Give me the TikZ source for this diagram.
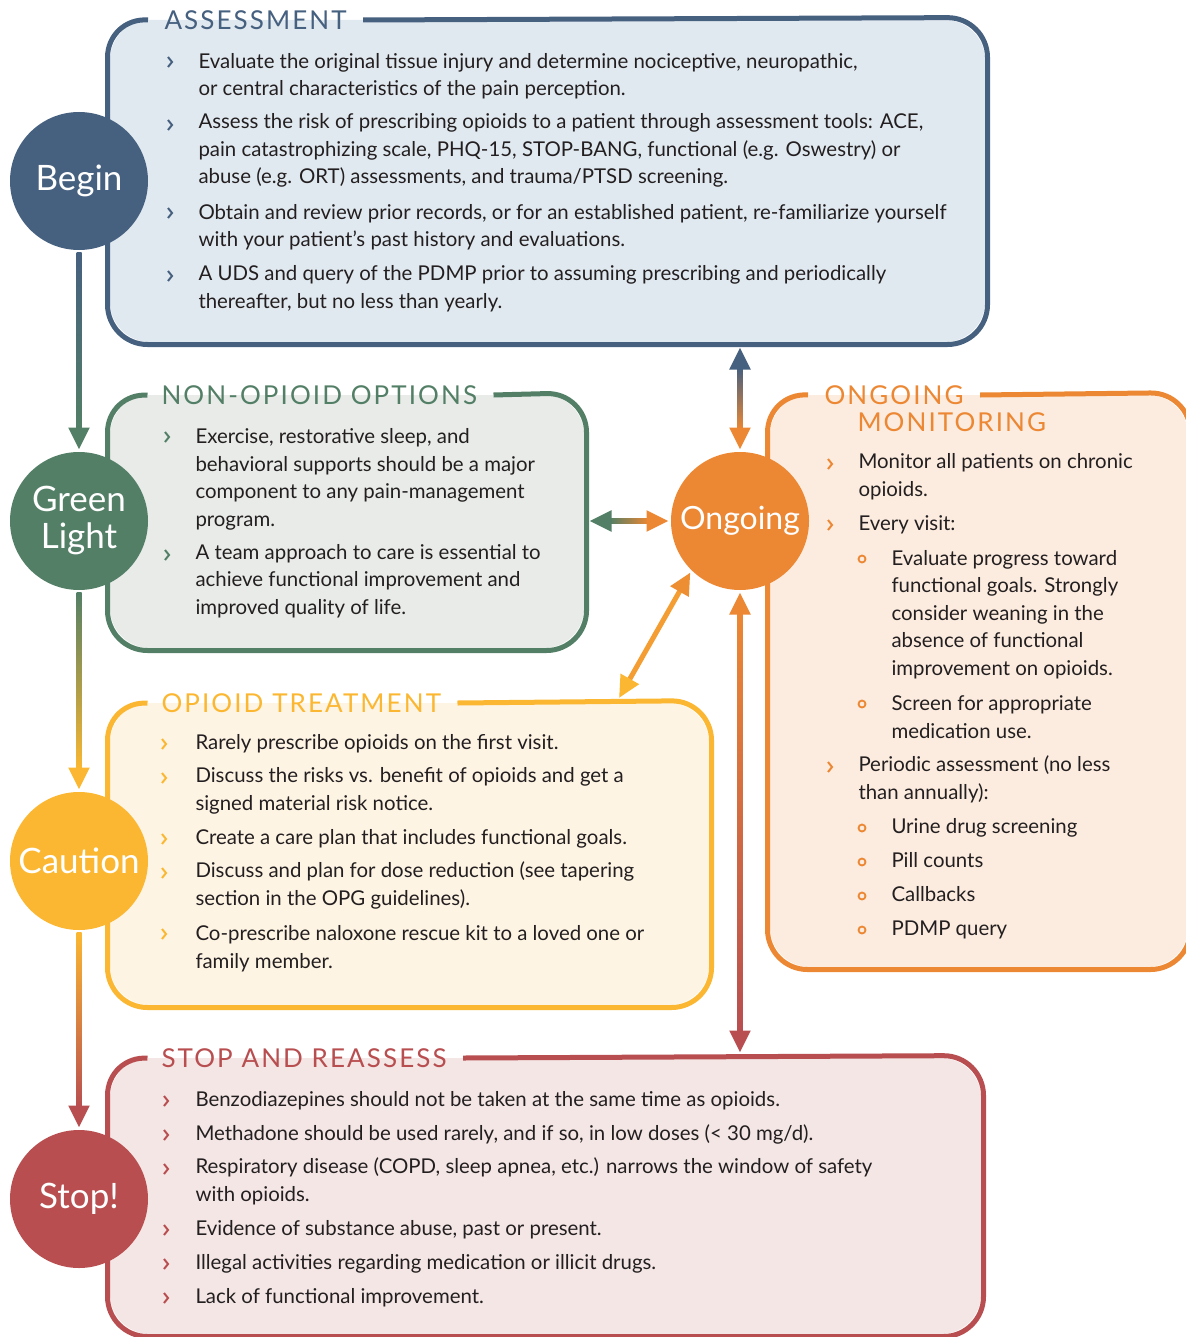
\documentclass[tikz,border=0pt]{standalone}
\usepackage{fontspec}
\setmainfont{Lato}
\usetikzlibrary{arrows.meta,calc}
\definecolor{cblue}{HTML}{46607F}
\definecolor{cbluefill}{HTML}{E1E9F0}
\definecolor{cgreen}{HTML}{537F66}
\definecolor{cgreenfill}{HTML}{E8EBE8}
\definecolor{cyellow}{HTML}{FBB731}
\definecolor{cyellowfill}{HTML}{FEF4E4}
\definecolor{cred}{HTML}{B84E50}
\definecolor{credfill}{HTML}{F3E6E4}
\definecolor{corange}{HTML}{EC8733}
\definecolor{corangefill}{HTML}{FCECDF}
\definecolor{ink}{HTML}{231F20}

\begin{document}
\begin{tikzpicture}[x=0.5pt,y=-0.5pt,line width=2.5pt,
  stage/.style={circle,fill=#1,minimum size=69pt,inner sep=0pt,text=white,align=center,font=\fontsize{17.5}{18.5}\selectfont},
  panel/.style={fill=#1,rounded corners=20pt,inner sep=0pt},
  ttl/.style={anchor=west,text=#1,inner xsep=7pt,inner ysep=0pt,font=\fontsize{13}{15}\selectfont\addfontfeature{LetterSpace=8}},
  itm/.style={anchor=base west,align=left,inner sep=0pt,xshift=-1pt,text=ink,font=\fontsize{10.2}{13.75}\selectfont},
  chev/.style={draw=#1,line width=1pt},
  subdot/.style={draw=#1,line width=0.9pt},
  tip/.style={-{Triangle[length=11pt,width=10pt]},#1}]
  \useasboundingbox (0,0) rectangle (1185,1337);
  % panels
  \node[panel=cbluefill,minimum width=437.5pt,minimum height=161pt] (assess) at (547.5,181) {};
  \node[panel=cgreenfill,minimum width=237pt,minimum height=126.5pt] (nonop) at (347,521.5) {};
  \node[panel=cyellowfill,minimum width=299.5pt,minimum height=151pt] (opbox) at (409.5,854) {};
  \node[panel=credfill,minimum width=435.5pt,minimum height=138pt] (stopbox) at (545.5,1196) {};
  \node[panel=corangefill,minimum width=209pt,minimum height=286pt] (ongbox) at (979,681) {};
  % titles on the frame
  \node[ttl=cblue] (tA) at (148,20) {ASSESSMENT};
  \node[ttl=cgreen] (tN) at (145,395) {NON-OPIOID OPTIONS};
  \node[ttl=cyellow] (tOp) at (145,703) {OPIOID TREATMENT};
  \node[ttl=cred] (tS) at (145,1058) {STOP AND REASSESS};
  \node[ttl=corange] (tO1) at (808,395) {ONGOING};
  \node[ttl=corange,inner xsep=0pt] (tO2) at (855,422) {MONITORING};
  \begin{scope}[rounded corners=20pt]
    \draw[cblue] (tA.east) -- (assess.north east) -- (assess.south east) -- (assess.south west) -- (assess.north west) -- (tA.west);
    \draw[cgreen] (tN.east) -- (nonop.north east) -- (nonop.south east) -- (nonop.south west) -- (nonop.north west) -- (tN.west);
    \draw[cyellow] (tOp.east) -- (opbox.north east) -- (opbox.south east) -- (opbox.south west) -- (opbox.north west) -- (tOp.west);
    \draw[cred] (tS.east) -- (stopbox.north east) -- (stopbox.south east) -- (stopbox.south west) -- (stopbox.north west) -- (tS.west);
    \draw[corange] (tO1.east) -- (ongbox.north east) -- (ongbox.south east) -- (ongbox.south west) -- (ongbox.north west) -- (tO1.west);
  \end{scope}
  % assessment (node y = baseline of the last line)
  \foreach \y in {61,124,212,275} \draw[chev=cblue] (168,\y-4) -- (172,\y+1) -- (168,\y+6);
  \node[itm] (a1) at (198,96) {Evaluate the original tissue injury and determine nociceptive, neuropathic,\\or central characteristics of the pain perception.};
  \node[itm] (a2) at (198,184) {Assess the risk of prescribing opioids to a patient through assessment tools: ACE,\\pain catastrophizing scale, PHQ-15, STOP-BANG, functional (e.g. Oswestry) or\\abuse (e.g. ORT) assessments, and trauma/PTSD screening.};
  \node[itm] (a3) at (198,247) {Obtain and review prior records, or for an established patient, re-familiarize yourself\\with your patient’s past history and evaluations.};
  \node[itm] (a4) at (198,308) {A UDS and query of the PDMP prior to assuming prescribing and periodically\\thereafter, but no less than yearly.};
  % non-opioid
  \foreach \y in {436,554} \draw[chev=cgreen] (165,\y-4) -- (169,\y+1) -- (165,\y+6);
  \node[itm] (n1) at (195,526) {Exercise, restorative sleep, and\\behavioral supports should be a major\\component to any pain-management\\program.};
  \node[itm] (n2) at (195,614) {A team approach to care is essential to\\achieve functional improvement and\\improved quality of life.};
  % opioid treatment
  \foreach \y in {743,777,838,872,933} \draw[chev=cyellow] (162,\y-4) -- (166,\y+1) -- (162,\y+6);
  \node[itm] (o1) at (195,749) {Rarely prescribe opioids on the first visit.};
  \node[itm] (o2) at (195,810) {Discuss the risks vs. benefit of opioids and get a\\signed material risk notice.};
  \node[itm] (o3) at (195,844) {Create a care plan that includes functional goals.};
  \node[itm] (o4) at (195,905) {Discuss and plan for dose reduction (see tapering\\section in the OPG guidelines).};
  \node[itm] (o5) at (195,968) {Co-prescribe naloxone rescue kit to a loved one or\\family member.};
  % stop and reassess
  \foreach \y in {1100,1134,1168,1229,1263,1297} \draw[chev=cred] (164,\y-4) -- (168,\y+1) -- (164,\y+6);
  \node[itm] (s1) at (195,1106) {Benzodiazepines should not be taken at the same time as opioids.};
  \node[itm] (s2) at (195,1140) {Methadone should be used rarely, and if so, in low doses (< 30 mg/d).};
  \node[itm] (s3) at (195,1201) {Respiratory disease (COPD, sleep apnea, etc.) narrows the window of safety\\with opioids.};
  \node[itm] (s4) at (195,1235) {Evidence of substance abuse, past or present.};
  \node[itm] (s5) at (195,1269) {Illegal activities regarding medication or illicit drugs.};
  \node[itm] (s6) at (195,1303) {Lack of functional improvement.};
  % ongoing monitoring
  \foreach \y in {463,524,766} \draw[chev=corange] (828,\y-4) -- (832,\y+1) -- (828,\y+6);
  \foreach \y in {558,703,827,861,895,929} \draw[subdot=corange] (862,\y+1) circle (3.5);
  \node[itm] (g1) at (858,496) {Monitor all patients on chronic\\opioids.};
  \node[itm] (g2) at (858,530) {Every visit:};
  \node[itm] (g3) at (891,675) {Evaluate progress toward\\functional goals. Strongly\\consider weaning in the\\absence of functional\\improvement on opioids.};
  \node[itm] (g4) at (891,738) {Screen for appropriate\\medication use.};
  \node[itm] (g5) at (858,799) {Periodic assessment (no less\\than annually):};
  \node[itm] (g6) at (891,833) {Urine drug screening};
  \node[itm] (g7) at (891,867) {Pill counts};
  \node[itm] (g8) at (891,901) {Callbacks};
  \node[itm] (g9) at (891,935) {PDMP query};
  % stages
  \node[stage=cblue] (begin) at (79,181) {Begin};
  \node[stage=cgreen] (green) at (79,521) {Green\\Light};
  \node[stage=cyellow] (caution) at (79,861) {Caution};
  \node[stage=cred] (stop) at (79,1199) {Stop!};
  \node[stage=corange,font=\fontsize{16}{18}\selectfont] (ongoing) at (740,521) {Ongoing};
  % connectors down the left side
  \shade[top color=cblue,bottom color=cgreen] ($(begin.south)+(-2.5,0)$) rectangle ($(green.north)+(2.5,-20)$);
  \draw[tip=cgreen] ($(green.north)+(0,-22)$) -- (green.north);
  \shade[top color=cgreen,bottom color=cyellow] ($(green.south)+(-2.5,0)$) rectangle ($(caution.north)+(2.5,-20)$);
  \draw[tip=cyellow] ($(caution.north)+(0,-22)$) -- (caution.north);
  \shade[top color=cyellow,bottom color=cred] ($(caution.south)+(-2.5,0)$) rectangle ($(stop.north)+(2.5,-20)$);
  \draw[tip=cred] ($(stop.north)+(0,-22)$) -- (stop.north);
  % connectors round ongoing
  \coordinate (aEnd) at ($(ongoing.north |- assess.south)+(0,3)$);
  \shade[top color=cblue,bottom color=corange] ($(aEnd)+(-2.5,20)$) rectangle ($(ongoing.north)+(2.5,-20)$);
  \draw[tip=cblue] ($(aEnd)+(0,22)$) -- (aEnd);
  \draw[tip=corange] ($(ongoing.north)+(0,-22)$) -- (ongoing.north);
  \coordinate (nEnd) at ($(nonop.east |- ongoing.west)+(3,0)$);
  \shade[left color=cgreen,right color=corange] ($(nEnd)+(20,-2.5)$) rectangle ($(ongoing.west)+(-20,2.5)$);
  \draw[tip=cgreen] ($(nEnd)+(22,0)$) -- (nEnd);
  \draw[tip=corange] ($(ongoing.west)+(-22,0)$) -- (ongoing.west);
  \coordinate (oEnd) at (619,698);
  \draw[cyellow!45!corange,{Triangle[length=11pt,width=10pt,color=cyellow]}-{Triangle[length=11pt,width=10pt,color=corange!85!cyellow]}] (oEnd) -- (ongoing.226);
  \coordinate (sEnd) at ($(ongoing.south |- stopbox.north)+(0,-3)$);
  \shade[top color=corange,bottom color=cred] ($(ongoing.south)+(-2.5,20)$) rectangle ($(sEnd)+(2.5,-20)$);
  \draw[tip=corange] ($(ongoing.south)+(0,22)$) -- (ongoing.south);
  \draw[tip=cred] ($(sEnd)+(0,-22)$) -- (sEnd);
\end{tikzpicture}
\end{document}
